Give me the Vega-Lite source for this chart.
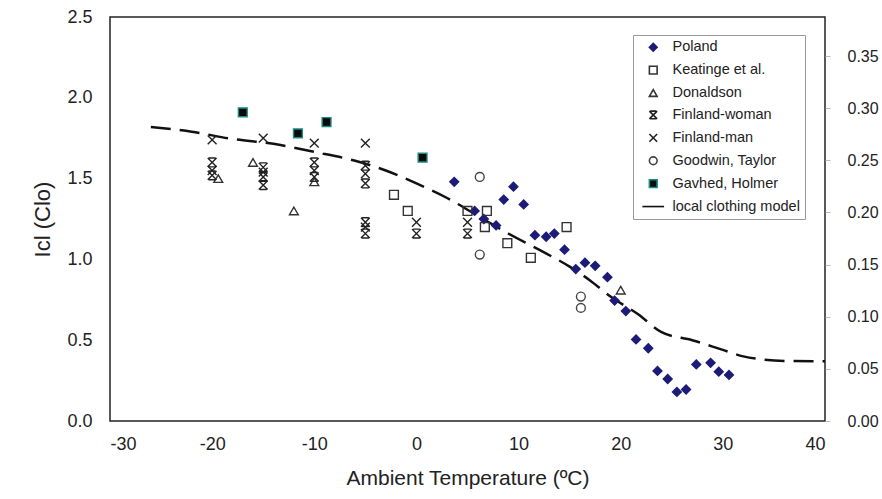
{
  "$schema": "https://vega.github.io/schema/vega-lite/v6.json",
  "width": 715,
  "height": 404,
  "autosize": "none",
  "padding": {"left": 110, "top": 17, "right": 57, "bottom": 78},
  "background": "white",
  "config": {
    "font": "Liberation Sans",
    "view": {"stroke": "#222", "strokeWidth": 1.5},
    "axis": {"grid": false, "domain": false, "labelColor": "#222", "titleColor": "#222", "titleFontWeight": "normal", "labelFont": "Liberation Sans", "titleFont": "Liberation Sans"}
  },
  "datasets": {
    "model": [
      {"t": -26, "icl": 1.82}, {"t": -22, "icl": 1.79}, {"t": -18, "icl": 1.745}, {"t": -14, "icl": 1.715},
      {"t": -10, "icl": 1.665}, {"t": -6, "icl": 1.61}, {"t": -3, "icl": 1.55}, {"t": 0, "icl": 1.47},
      {"t": 3, "icl": 1.38}, {"t": 6, "icl": 1.27}, {"t": 9, "icl": 1.16}, {"t": 12, "icl": 1.06},
      {"t": 15, "icl": 0.955}, {"t": 17, "icl": 0.87}, {"t": 19, "icl": 0.77}, {"t": 21.6, "icl": 0.665},
      {"t": 24, "icl": 0.55}, {"t": 27, "icl": 0.5}, {"t": 30, "icl": 0.44}, {"t": 32, "icl": 0.4},
      {"t": 34, "icl": 0.38}, {"t": 36, "icl": 0.372}, {"t": 40, "icl": 0.37}
    ],
    "obs": [
      {"series": "Poland", "t": 3.7, "icl": 1.48},
      {"series": "Poland", "t": 5.7, "icl": 1.30},
      {"series": "Poland", "t": 6.6, "icl": 1.25},
      {"series": "Poland", "t": 7.8, "icl": 1.21},
      {"series": "Poland", "t": 8.55, "icl": 1.37},
      {"series": "Poland", "t": 9.5, "icl": 1.45},
      {"series": "Poland", "t": 10.5, "icl": 1.34},
      {"series": "Poland", "t": 11.6, "icl": 1.15},
      {"series": "Poland", "t": 12.7, "icl": 1.14},
      {"series": "Poland", "t": 13.5, "icl": 1.16},
      {"series": "Poland", "t": 14.5, "icl": 1.06},
      {"series": "Poland", "t": 15.6, "icl": 0.94},
      {"series": "Poland", "t": 16.5, "icl": 0.98},
      {"series": "Poland", "t": 17.5, "icl": 0.96},
      {"series": "Poland", "t": 18.7, "icl": 0.89},
      {"series": "Poland", "t": 19.4, "icl": 0.745},
      {"series": "Poland", "t": 20.5, "icl": 0.68},
      {"series": "Poland", "t": 21.5, "icl": 0.505},
      {"series": "Poland", "t": 22.7, "icl": 0.45},
      {"series": "Poland", "t": 23.6, "icl": 0.31},
      {"series": "Poland", "t": 24.6, "icl": 0.26},
      {"series": "Poland", "t": 25.5, "icl": 0.18},
      {"series": "Poland", "t": 26.4, "icl": 0.195},
      {"series": "Poland", "t": 27.4, "icl": 0.35},
      {"series": "Poland", "t": 28.8, "icl": 0.36},
      {"series": "Poland", "t": 29.6, "icl": 0.305},
      {"series": "Poland", "t": 30.6, "icl": 0.285},
      {"series": "Keatinge et al.", "t": -2.2, "icl": 1.40},
      {"series": "Keatinge et al.", "t": -0.85, "icl": 1.30},
      {"series": "Keatinge et al.", "t": 5.0, "icl": 1.30},
      {"series": "Keatinge et al.", "t": 6.9, "icl": 1.30},
      {"series": "Keatinge et al.", "t": 6.7, "icl": 1.20},
      {"series": "Keatinge et al.", "t": 8.9, "icl": 1.10},
      {"series": "Keatinge et al.", "t": 11.2, "icl": 1.01},
      {"series": "Keatinge et al.", "t": 14.7, "icl": 1.20},
      {"series": "Donaldson", "t": -19.4, "icl": 1.50},
      {"series": "Donaldson", "t": -16, "icl": 1.60},
      {"series": "Donaldson", "t": -12, "icl": 1.30},
      {"series": "Donaldson", "t": -10, "icl": 1.48},
      {"series": "Donaldson", "t": 20, "icl": 0.81},
      {"series": "Finland-woman", "t": -20, "icl": 1.60},
      {"series": "Finland-woman", "t": -20, "icl": 1.52},
      {"series": "Finland-woman", "t": -15, "icl": 1.57},
      {"series": "Finland-woman", "t": -15, "icl": 1.51},
      {"series": "Finland-woman", "t": -15, "icl": 1.46},
      {"series": "Finland-woman", "t": -10, "icl": 1.60},
      {"series": "Finland-woman", "t": -10, "icl": 1.51},
      {"series": "Finland-woman", "t": -5, "icl": 1.58},
      {"series": "Finland-woman", "t": -5, "icl": 1.47},
      {"series": "Finland-woman", "t": -5, "icl": 1.23},
      {"series": "Finland-woman", "t": -5, "icl": 1.16},
      {"series": "Finland-woman", "t": 0, "icl": 1.16},
      {"series": "Finland-woman", "t": 5, "icl": 1.16},
      {"series": "Finland-man", "t": -20, "icl": 1.74},
      {"series": "Finland-man", "t": -20, "icl": 1.55},
      {"series": "Finland-man", "t": -15, "icl": 1.75},
      {"series": "Finland-man", "t": -15, "icl": 1.54},
      {"series": "Finland-man", "t": -10, "icl": 1.72},
      {"series": "Finland-man", "t": -10, "icl": 1.55},
      {"series": "Finland-man", "t": -5, "icl": 1.72},
      {"series": "Finland-man", "t": -5, "icl": 1.53},
      {"series": "Finland-man", "t": -5, "icl": 1.20},
      {"series": "Finland-man", "t": 0, "icl": 1.23},
      {"series": "Finland-man", "t": 5, "icl": 1.23},
      {"series": "Goodwin, Taylor", "t": 6.2, "icl": 1.51},
      {"series": "Goodwin, Taylor", "t": 6.2, "icl": 1.03},
      {"series": "Goodwin, Taylor", "t": 16.1, "icl": 0.77},
      {"series": "Goodwin, Taylor", "t": 16.1, "icl": 0.70},
      {"series": "Gavhed, Holmer", "t": -17, "icl": 1.91},
      {"series": "Gavhed, Holmer", "t": -11.6, "icl": 1.78},
      {"series": "Gavhed, Holmer", "t": -8.8, "icl": 1.85},
      {"series": "Gavhed, Holmer", "t": 0.6, "icl": 1.63}
    ]
  },
  "layer": [
    {
      "layer": [
        {
          "data": {"name": "model"},
          "mark": {"type": "line", "strokeDash": [20, 9], "strokeWidth": 2.5, "color": "#111", "interpolate": "monotone"},
          "encoding": {
            "x": {"field": "t", "type": "quantitative", "scale": {"domain": [-30, 40], "nice": false},
              "axis": {"values": [-30, -20, -10, 0, 10, 20, 30, 40], "labelExpr": "'' + datum.value", "ticks": false, "labelFontSize": 18, "labelPadding": 14, "title": "Ambient Temperature (ºC)", "titleFontSize": 21, "titlePadding": 14}},
            "y": {"field": "icl", "type": "quantitative", "scale": {"domain": [0, 2.5], "nice": false},
              "axis": {"values": [0, 0.5, 1, 1.5, 2, 2.5], "format": ".1f", "ticks": false, "labelFontSize": 18, "labelPadding": 18, "title": "Icl (Clo)", "titleFontSize": 22, "titlePadding": 12}}
          }
        },
        {
          "data": {"name": "obs"},
          "mark": {"type": "point", "filled": false, "strokeWidth": 1.4, "size": 78, "opacity": 1},
          "encoding": {
            "x": {"field": "t", "type": "quantitative"},
            "y": {"field": "icl", "type": "quantitative"},
            "shape": {"field": "series", "type": "nominal",
              "scale": {"domain": ["Poland", "Keatinge et al.", "Donaldson", "Finland-woman", "Finland-man", "Goodwin, Taylor", "Gavhed, Holmer", "local clothing model"],
                "range": ["diamond", "square", "triangle-up", "M-1,-1L1,1M1,-1L-1,1M-0.8,-1H0.8M-0.8,1H0.8", "M-1,-1L1,1M1,-1L-1,1", "circle", "square", "M-2.8,0H2.8"]},
              "legend": {"orient": "none", "legendX": 523, "legendY": 18, "title": null, "padding": 5, "strokeColor": "#999", "fillColor": "white", "labelFontSize": 14.5, "labelColor": "#222", "labelFont": "Liberation Sans", "symbolSize": 60, "symbolStrokeWidth": 1.6, "rowPadding": 6.9, "labelOffset": 12, "symbolOffset": 8}},
            "fill": {"field": "series", "type": "nominal",
              "scale": {"domain": ["Poland", "Keatinge et al.", "Donaldson", "Finland-woman", "Finland-man", "Goodwin, Taylor", "Gavhed, Holmer", "local clothing model"],
                "range": ["#1c1c78", "transparent", "transparent", "transparent", "transparent", "transparent", "#0a0a0a", "transparent"]}},
            "stroke": {"field": "series", "type": "nominal",
              "scale": {"domain": ["Poland", "Keatinge et al.", "Donaldson", "Finland-woman", "Finland-man", "Goodwin, Taylor", "Gavhed, Holmer", "local clothing model"],
                "range": ["#1c1c78", "#333333", "#333333", "#222222", "#222222", "#444444", "#1e8c84", "#111111"]}}
          }
        }
      ]
    },
    {
      "data": {"values": [{"k": 0}]},
      "mark": {"type": "point", "opacity": 0},
      "encoding": {
        "y": {"datum": 0, "type": "quantitative", "scale": {"domain": [0, 0.3875], "nice": false},
          "axis": {"orient": "right", "values": [0, 0.05, 0.1, 0.15, 0.2, 0.25, 0.3, 0.35], "format": ".2f", "ticks": true, "tickSize": 5, "tickColor": "#bbb", "labelFontSize": 16, "labelPadding": 17, "title": null}}
      }
    }
  ],
  "resolve": {"scale": {"y": "independent"}}
}
